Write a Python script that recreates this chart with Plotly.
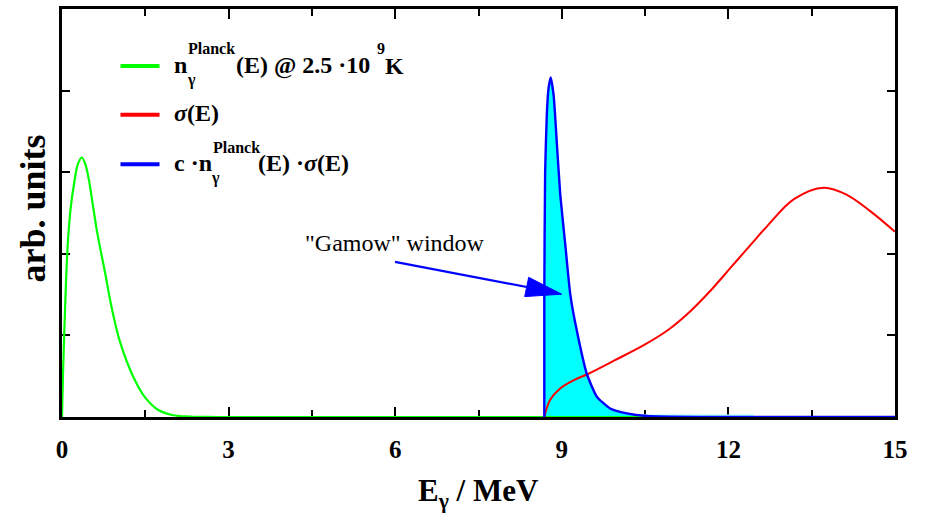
import plotly.graph_objects as go

# ---------------- data ----------------
# Planck photon density at 2.5e9 K (green)
E_planck = [0, 0.018, 0.054, 0.102, 0.156, 0.222, 0.282, 0.354, 0.42, 0.486, 0.546,
            0.637, 0.775, 0.895, 1.045, 1.285, 1.495, 1.735, 1.98, 2.3, 2.8, 15]
n_planck = [0, 0.53, 1.30, 2.10, 2.56, 2.88, 3.09, 3.18, 3.10, 2.90, 2.64,
            2.25, 1.77, 1.34, 0.92, 0.49, 0.24, 0.085, 0.025, 0.005, 0, 0]

# cross section sigma(E) (red)
E_sigma = [8.685, 8.79, 8.97, 9.21, 9.48, 9.94, 10.5, 10.9, 11.32, 11.68, 12.04,
           12.4, 12.7, 13.18, 13.72, 14.14, 14.56, 15.0]
sigma = [0, 0.21, 0.35, 0.45, 0.53, 0.69, 0.89, 1.06, 1.30, 1.55, 1.83,
         2.11, 2.34, 2.67, 2.81, 2.72, 2.52, 2.27]

# product c * n * sigma (blue, "Gamow" window)
E_prod = [8.685, 8.685, 8.70, 8.73, 8.76, 8.80, 8.853, 8.913, 8.973, 9.063, 9.153,
          9.27, 9.45, 9.63, 9.87, 10.17, 10.53, 11.0, 12.0, 13.0, 14.0, 15.0]
prod = [0, 1.5, 3.0, 3.7, 4.02, 4.16, 3.94, 3.33, 2.72, 2.11, 1.50,
        1.06, 0.53, 0.25, 0.105, 0.045, 0.012, 0.004, 0.0, 0.0, 0.0, 0.0]

# faint cyan strip along the baseline
E_strip = [10.3, 12.45]
strip = [0.035, 0.03]

x_ticks = [0, 3, 6, 9, 12, 15]
x_ticklabels = ["0", "3", "6", "9", "12", "15"]
y_ticks = [1, 2, 3, 4]

# ---------------- geometry helpers ----------------
W, H = 930, 529
L, R, T, B = 62, 35, 6, 112
PW, PH = W - L - R, H - T - B
XMAX, YMAX = 15, 5


def px2x(px):
    return (px - L) / PW * XMAX


def py2y(py):
    return (H - B - py) / PH * YMAX


def pxp(px):
    return (px - L) / PW


def pyp(py):
    return (H - B - py) / PH


SERIF = "Liberation Serif, Times New Roman, serif"

fig = go.Figure()

# fills first
fig.add_trace(go.Scatter(x=E_strip, y=strip, mode="lines", line=dict(width=0),
                         fill="tozeroy", fillcolor="#a8ffff", showlegend=False,
                         hoverinfo="skip"))
fig.add_trace(go.Scatter(x=E_prod, y=prod, mode="lines",
                         line=dict(width=0, shape="spline", smoothing=0.5),
                         fill="tozeroy", fillcolor="#00ffff", showlegend=False,
                         hoverinfo="skip"))
# curves
fig.add_trace(go.Scatter(x=E_planck, y=n_planck, mode="lines",
                         line=dict(color="#00ff00", width=2.2, shape="spline", smoothing=1.0),
                         showlegend=False))
fig.add_trace(go.Scatter(x=E_sigma, y=sigma, mode="lines",
                         line=dict(color="#ff0000", width=2, shape="spline", smoothing=1.0),
                         showlegend=False))
fig.add_trace(go.Scatter(x=E_prod, y=prod, mode="lines",
                         line=dict(color="#0000ff", width=2.4, shape="spline", smoothing=0.5),
                         showlegend=False))

shapes = []
annotations = []

# ---- legend (manual) ----
legend_rows = [(63.5, "#00ff00"), (112.5, "#ff0000"), (162.5, "#0000ff")]
for py, col in legend_rows:
    shapes.append(dict(type="line", xref="paper", yref="paper",
                       x0=pxp(120.5), x1=pxp(159.5), y0=pyp(py), y1=pyp(py),
                       line=dict(color=col, width=4)))


def txt(s, px, py, size, anchor="left", bold=True, color="black"):
    if bold:
        s = "<b>" + s + "</b>"
    annotations.append(dict(text=s, xref="paper", yref="paper", x=pxp(px), y=pyp(py),
                            xanchor=anchor, yanchor="middle", showarrow=False,
                            font=dict(family=SERIF, size=size, color=color)))


# row 1
txt("n", 172, 62, 24)
txt("Planck", 186, 46, 16)
txt("γ", 185, 78, 16)
txt("(E) @ 2.5 ·10", 234, 63, 24)
txt("9", 375, 46, 16, anchor="left")
txt("K", 383, 63, 24, anchor="left")
# row 2
txt("<i>σ</i>(E)", 172, 111, 24)
# row 3
txt("c ·n", 172, 161, 24)
txt("Planck", 211, 146, 16)
txt("γ", 209, 176, 16)
txt("(E) ·<i>σ</i>(E)", 256, 161, 24)

# Gamow window label
txt("\"Gamow\" window", 395, 242, 24, anchor="center", bold=False)

# arrow (line + head) in data coordinates
tail = (395, 260.7)
base = (526.7, 286.0)
tip = (561.7, 293.3)
c1 = (528.7, 276.3)
c2 = (524.7, 295.7)
shapes.append(dict(type="line", xref="x", yref="y",
                   x0=px2x(tail[0]), y0=py2y(tail[1]), x1=px2x(base[0]), y1=py2y(base[1]),
                   line=dict(color="#0000ff", width=2.2)))
path = "M {:.4f},{:.4f} L {:.4f},{:.4f} L {:.4f},{:.4f} Z".format(
    px2x(tip[0]), py2y(tip[1]), px2x(c1[0]), py2y(c1[1]), px2x(c2[0]), py2y(c2[1]))
shapes.append(dict(type="path", xref="x", yref="y", path=path,
                   fillcolor="#0000ff", line=dict(color="#0000ff", width=1)))

# axis titles as annotations
annotations.append(dict(text="<b>E<sub>γ</sub> / MeV</b>", xref="paper", yref="paper",
                        x=pxp(478), y=pyp(494), xanchor="center", yanchor="middle",
                        showarrow=False, font=dict(family=SERIF, size=31, color="black")))
annotations.append(dict(text="<b>arb. units</b>", xref="paper", yref="paper",
                        x=pxp(33), y=pyp(207), xanchor="center", yanchor="middle",
                        textangle=-90, showarrow=False,
                        font=dict(family=SERIF, size=36, color="black")))

fig.update_layout(
    width=W, height=H,
    margin=dict(l=L, r=R, t=T, b=B, pad=0),
    plot_bgcolor="white", paper_bgcolor="white",
    showlegend=False,
    shapes=shapes, annotations=annotations,
    xaxis=dict(range=[0, XMAX], tickvals=x_ticks, ticktext=x_ticklabels,
               ticks="inside", ticklen=10, tickwidth=2, tickcolor="black",
               minor=dict(dtick=1.5, tick0=0, ticks="inside", ticklen=7, tickwidth=2,
                          tickcolor="black", showgrid=False),
               showline=True, linecolor="black", linewidth=2.5, mirror="ticks",
               showgrid=False, zeroline=False, layer="below traces",
               ticklabelstandoff=8,
               tickfont=dict(family=SERIF, size=25, color="black", weight="bold"),
               fixedrange=True),
    yaxis=dict(range=[0, YMAX], tickvals=y_ticks, showticklabels=False,
               ticks="inside", ticklen=8, tickwidth=2, tickcolor="black",
               showline=True, linecolor="black", linewidth=2.5, mirror="ticks",
               showgrid=False, zeroline=False, layer="below traces",
               fixedrange=True),
)

fig.write_html("out.html")
